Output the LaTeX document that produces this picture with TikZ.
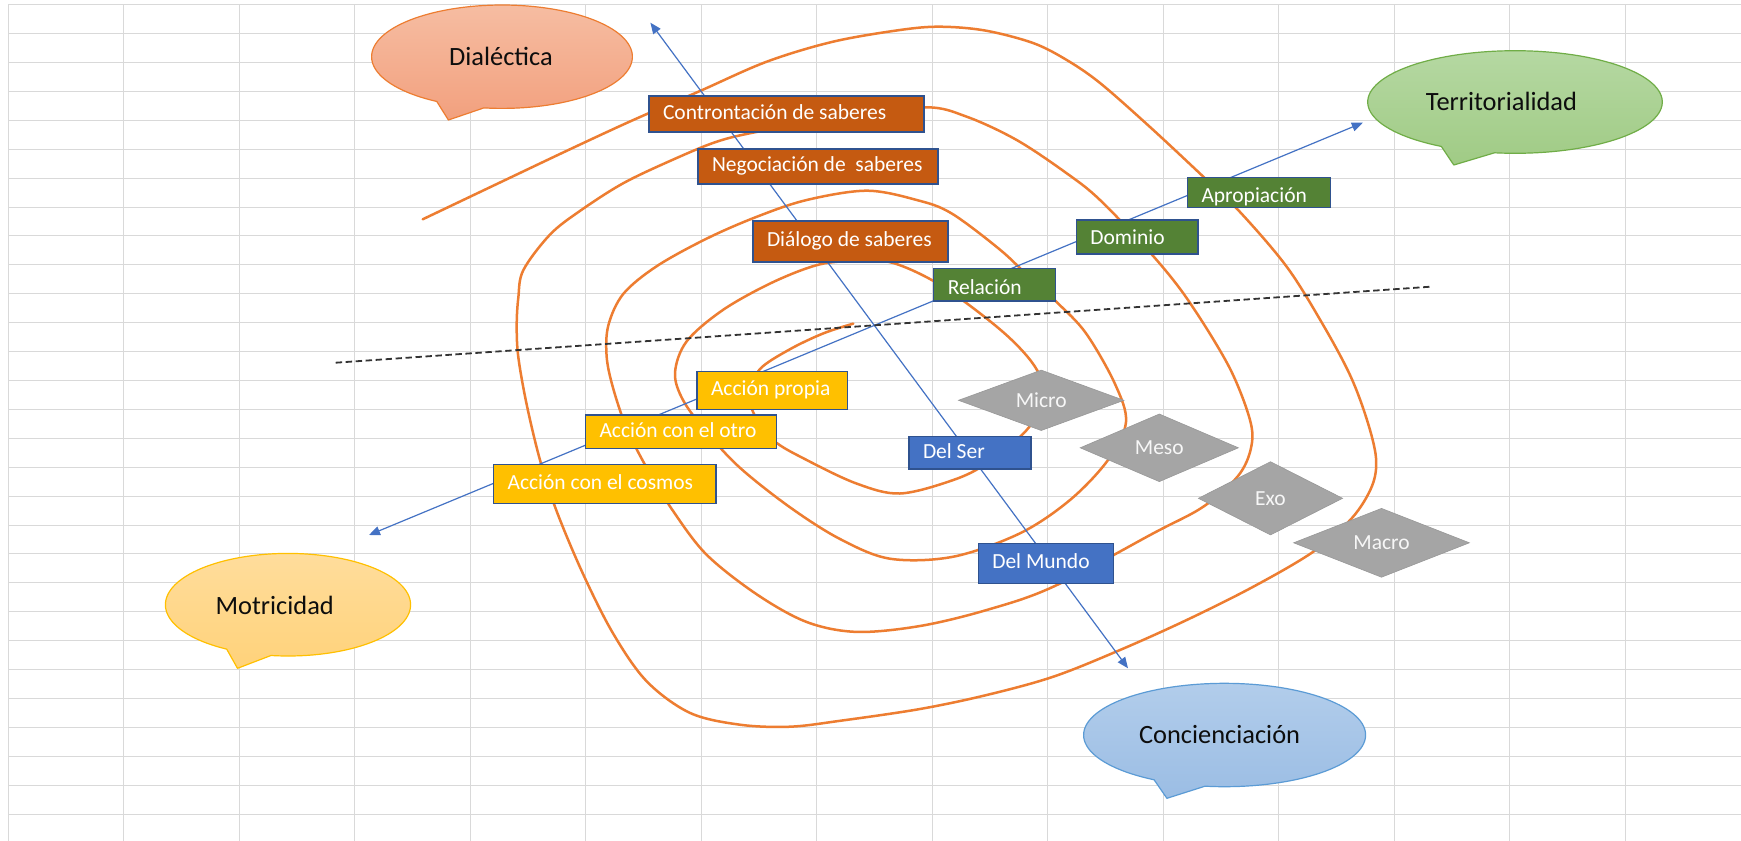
\documentclass[tikz,border=0pt]{standalone}
\usepackage{fontspec}
\setmainfont{Carlito}
\usetikzlibrary{arrows.meta,shapes.geometric}
\definecolor{gridc}{HTML}{D9D9D9}
\definecolor{orng}{HTML}{ED7D31}
\definecolor{bluel}{HTML}{4472C4}
\definecolor{bord}{HTML}{2F528F}
\definecolor{brownf}{HTML}{C55A11}
\definecolor{greenf}{HTML}{548235}
\definecolor{yellf}{HTML}{FFC000}
\definecolor{bluef}{HTML}{4472C4}
\definecolor{grayf}{HTML}{A5A5A5}
\definecolor{dialT}{HTML}{F6BDA2}
\definecolor{dialB}{HTML}{F2A07E}
\definecolor{dialD}{HTML}{ED7D31}
\definecolor{terrT}{HTML}{B5D8A2}
\definecolor{terrB}{HTML}{A0CB85}
\definecolor{terrD}{HTML}{70AD47}
\definecolor{motrT}{HTML}{FFDD9C}
\definecolor{motrB}{HTML}{FFD27A}
\definecolor{motrD}{HTML}{FFC000}
\definecolor{concT}{HTML}{B2CDEB}
\definecolor{concB}{HTML}{9BBDE4}
\definecolor{concD}{HTML}{5B9BD5}
\definecolor{txtdark}{HTML}{0D0D0D}
\newcommand\speechbub[9]{%
  \draw[line width=0.6pt, draw=#9, top color=#7, bottom color=#8, line join=round]
    plot[domain=120:458, samples=120] ({#1+#3*cos(\x)},{#2+#4*sin(\x)}) -- (#5,#6) -- cycle;}
\newcommand\boxfont{\fontsize{10.75pt}{12pt}\selectfont}
\newcommand\bubfont{\fontsize{13.2pt}{15pt}\selectfont}
\tikzset{
  gridline/.style={draw=gridc, line width=0.6pt},
  spiral/.style={draw=orng, line width=1.25pt, line cap=round},
  axisline/.style={draw=bluel, line width=0.6pt, {Triangle[length=5.5pt,width=4.5pt]}-{Triangle[length=5.5pt,width=4.5pt]}},
  dashline/.style={draw=black!80, line width=0.9pt, dash pattern=on 3.2pt off 1.8pt},
  labbox/.style={draw=bord, line width=0.7pt, inner xsep=7pt, inner ysep=0pt, text=white, font=\boxfont, text height=7.5pt, text depth=2.3pt},
  diam/.style={diamond, aspect=2.5, fill=grayf, draw=grayf!92!black, line width=0.3pt, inner sep=0pt, text=white!94!gray, font=\boxfont},
  bubtext/.style={text=txtdark, font=\bubfont, inner sep=0pt}
}
\begin{document}
\begin{tikzpicture}[x=0.5pt, y=-0.5pt]
\useasboundingbox (0,0) rectangle (1741,841);
\fill[white] (0,0) rectangle (1741,841);
% grid
\foreach \k in {0,...,14} \draw[gridline] ({int(8.3+115.5*\k)+0.5},4.5) -- ({int(8.3+115.5*\k)+0.5},841);
\foreach \k in {0,...,28} \draw[gridline] (8,{int(4.7+28.91*\k)+0.5}) -- (1741,{int(4.7+28.91*\k)+0.5});
% spiral
\draw[spiral] plot[smooth, tension=0.55] coordinates {
(422.7,219.3) (506.7,179.3) (573.3,147.7) (633.3,120) (700,91) (766.7,61.7) (833,41.7) (900,30)
(940,26.7) (985,30.5) (1033,43) (1066.7,60) (1100,83) (1150,127) (1203.3,176.7) (1240,212)
(1286.7,266.7) (1322,323) (1350,375) (1367,420) (1376,458) (1372,486) (1352,518) (1313.3,551.7)
(1253.3,586.7) (1186.7,620) (1120,650) (1053.3,676.7) (986.7,695) (920,709) (840,720.8) (790,726.7)
(740,724.7) (690,712.9) (646.7,681.3) (613.3,633.8) (583.3,574.5) (556.7,511.3) (540,460)
(526.7,404.6) (518.3,357) (516.7,325.5) (518.3,297.9) (523.3,270.2) (550,234.6) (580,210.9)
(623.3,183.2) (673.3,159.5) (716.7,141.7) (756.7,131.9) (840,117) (925,107.3) (966.7,116.7)
(1016.7,140) (1066.7,173.3) (1100,200) (1151.4,254) (1188,300) (1229,366.7) (1250,420) (1251,448)
(1238,476) (1203.3,506.7) (1153.3,533.3) (1053.3,586.7) (986.7,610) (920,626) (856.7,631.9)
(806.7,622) (756.7,594.3) (706.7,554.8) (673.3,511.3) (646.7,467.8) (626.7,428.3) (613.3,388.8)
(606.7,357.2) (608.3,325.5) (623.3,293.9) (656.7,266.2) (706.7,238.6) (756.7,216.8) (806.7,200)
(866.7,190.7) (916.7,200) (951.4,213.3) (1000.4,250) (1030,278) (1057.6,303) (1086,333.3)
(1114.7,383.3) (1126,422) (1108,460) (1070,500) (1020,533.3) (953.3,556.7) (890,558.7) (840,539)
(790,507.3) (740,467.8) (706.7,432.2) (683.3,400.6) (675,373) (686.7,341.3) (723.3,309.7)
(773.3,282) (820,264.3) (860,261) (894.3,263.3) (943,286.7) (1004.5,333.3) (1037,370) (1042,400)
(1026.7,430) (986.7,463.3) (953.3,480) (900,493.5) (856.7,483.6) (806.7,460) (773.3,440.2)
(753.3,412.5) (751,392) (760,369) (790,349.2) (823.3,333.4) (853.3,323.6)};
% axes
\coordinate (motTip) at (369,535);
\coordinate (terTip) at (1362.8,122.7);
\coordinate (dialTip) at (650.4,22.7);
\coordinate (concTip) at (1128,668.3);
\coordinate (dashL) at (335.7,362.7);
\coordinate (dashR) at (1430.5,286.7);
\draw[axisline] (motTip) -- (terTip);
\draw[axisline] (dialTip) -- (concTip);
\draw[dashline] (dashL) -- (dashR);
% boxes
\node[labbox, fill=brownf, minimum height=18pt] (contr) at (786.5,114) {\makebox[123.5pt][l]{Controntación de saberes}};
\node[labbox, fill=brownf, minimum height=17.5pt] (nego) at (818,166.5) {\makebox[106pt][l]{Negociación de\ \ saberes}};
\node[labbox, fill=brownf, minimum height=20.5pt] (dialo) at (850.5,241.5) {\makebox[83.5pt][l]{Diálogo de saberes}};
\node[labbox, fill=greenf, minimum height=14.8pt] (apro) at (1259,192.5) {\makebox[57.5pt][l]{\raisebox{-2.5pt}{Apropiación}}};
\node[labbox, fill=greenf, minimum height=17pt] (domi) at (1137.2,237) {\makebox[46.8pt][l]{\raisebox{-1.2pt}{Dominio}}};
\node[labbox, fill=greenf, minimum height=16.2pt] (rela) at (994.5,284.8) {\makebox[46.75pt][l]{\raisebox{-2pt}{Relación}}};
\node[labbox, fill=yellf, minimum height=18.8pt] (propia) at (772.2,390.5) {\makebox[61.2pt][l]{Acción propia}};
\node[labbox, fill=yellf, minimum height=16.9pt] (otro) at (681,431.8) {\makebox[81.5pt][l]{Acción con el otro}};
\node[labbox, fill=yellf, minimum height=19.5pt] (cosmos) at (604.8,483.8) {\makebox[97.2pt][l]{Acción con el cosmos}};
\node[labbox, fill=bluef, minimum height=16.2pt] (delser) at (970,452.8) {\makebox[47pt][l]{Del Ser}};
\node[labbox, fill=bluef, minimum height=20pt] (delmundo) at (1045.8,563.3) {\makebox[53.5pt][l]{Del Mundo}};
% diamonds
\node[diam, minimum width=82.8pt, minimum height=30.3pt] (micro) at (1041.2,400.3) {Micro};
\node[diam, minimum width=79.2pt, minimum height=33.9pt] (meso) at (1159.3,447.8) {Meso};
\node[diam, minimum width=72.2pt, minimum height=36.7pt] (exo) at (1270.5,498.3) {Exo};
\node[diam, minimum width=88pt, minimum height=34.5pt] (macro) at (1381.5,542.8) {Macro};
% speech bubbles
\speechbub{502}{56.7}{130.4}{51.7}{448.4}{120}{dialT}{dialB}{dialD}
\speechbub{1515}{102}{147.3}{51.3}{1453.8}{165}{terrT}{terrB}{terrD}
\speechbub{288}{604.7}{122.6}{51.3}{237.5}{668.3}{motrT}{motrB}{motrD}
\speechbub{1224.6}{735}{141}{51.7}{1166.9}{798.3}{concT}{concB}{concD}
\node[bubtext] (dialectica) at (501,56.7) {Dialéctica};
\node[bubtext] (territorialidad) at (1501.5,101.7) {Territorialidad};
\node[bubtext] (motricidad) at (274.7,605) {Motricidad};
\node[bubtext] (concienciacion) at (1219.6,735) {Concienciación};
\end{tikzpicture}
\end{document}
